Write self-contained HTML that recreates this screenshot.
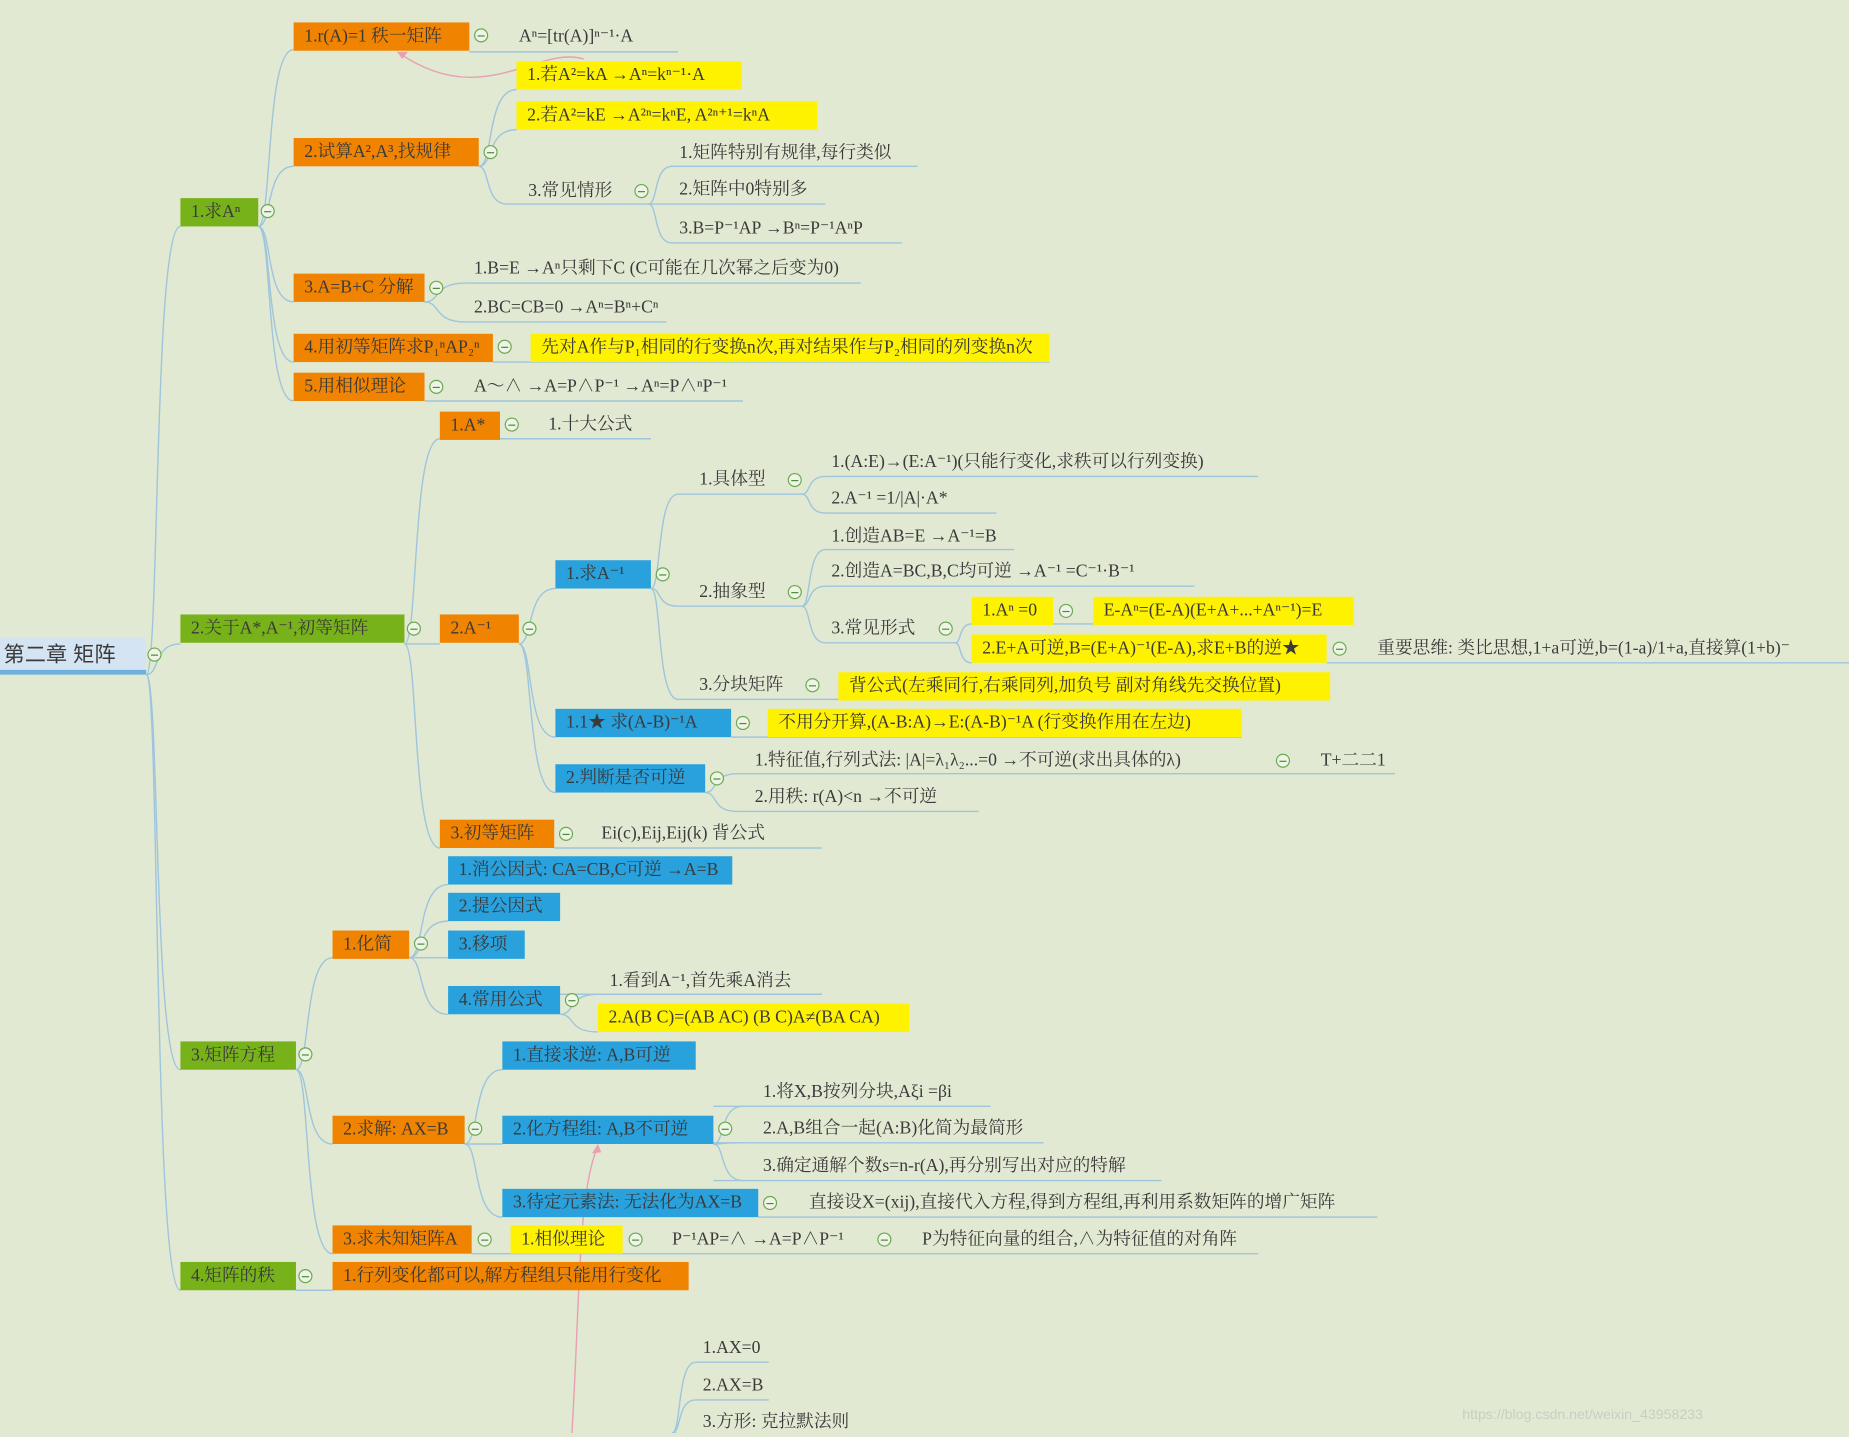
<!DOCTYPE html>
<html><head><meta charset="utf-8">
<style>
html,body{margin:0;padding:0;width:1849px;height:1433px;overflow:hidden;background:#e2e9d3;}
#s{position:absolute;left:0;top:0;width:1568px;height:1215px;transform:scale(1.1792,1.1794);transform-origin:0 0;font-family:"Liberation Serif","Noto Serif CJK SC",serif;font-size:15px;color:#3a3a3a;}
.b,.t{position:absolute;white-space:nowrap;box-sizing:border-box;}
.b{height:24px;line-height:25px;padding:0 9px;}
.t{height:22px;line-height:23px;}
.g{background:#78b21a;}
.o{background:#f08300;}
.u{background:#28a1dd;}
.y{background:#fff200;}
.c{position:absolute;width:10px;height:10px;border:1px solid #6aa84f;border-radius:50%;background:#eef4e6;}
.c:after{content:"";position:absolute;left:2px;right:2px;top:4.5px;height:1px;background:#4a8a3a;}
svg{position:absolute;left:0;top:0;}
</style></head><body><div id="s">
<svg width="1568" height="1215" id="sv">
<g id="eg" fill="none" stroke="#9fc5dd" stroke-width="1.2"></g>
<path d="M495,50 C455,38 410,95 337,44" fill="none" stroke="#e8a0b0" stroke-width="1.2"/>
<path d="M337,44 l9,0 l-5,6 z" fill="#e8a0b0"/>
<path d="M507,972 C490,1010 492,1100 485,1215" fill="none" stroke="#e8a0b0" stroke-width="1.2"/>
<path d="M507,970 l-5,8 l8,-1 z" fill="#e8a0b0"/>
</svg>

<div class="b" style="left:0;top:540px;width:124px;height:32px;line-height:30px;background:#d5e4f2;border-bottom:4px solid #6fb1de;font-family:'Liberation Sans','Noto Sans CJK SC',sans-serif;font-size:18px;padding:0 3px;">第二章  矩阵</div>
<div class="c" style="left:125px;top:549px"></div>

<div class="b g" style="left:153px;top:168px;width:66px">1.求Aⁿ</div><div class="c" style="left:221px;top:173px"></div>
<div class="b g" style="left:153px;top:521px;width:190px">2.关于A*,A⁻¹,初等矩阵</div><div class="c" style="left:345px;top:527px"></div>
<div class="b g" style="left:153px;top:883px;width:98px">3.矩阵方程</div><div class="c" style="left:253px;top:888px"></div>
<div class="b g" style="left:153px;top:1070px;width:98px">4.矩阵的秩</div><div class="c" style="left:253px;top:1076px"></div>

<div class="b o" style="left:249px;top:19px;width:149px">1.r(A)=1 秩一矩阵</div><div class="c" style="left:402px;top:24px"></div>
<div class="t" style="left:440px;top:20px">Aⁿ=[tr(A)]ⁿ⁻¹·A</div>
<div class="b o" style="left:249px;top:117px;width:157px">2.试算A²,A³,找规律</div><div class="c" style="left:410px;top:123px"></div>
<div class="b y" style="left:438px;top:52px;width:191px">1.若A²=kA →Aⁿ=kⁿ⁻¹·A</div>
<div class="b y" style="left:438px;top:86px;width:255px">2.若A²=kE →A²ⁿ=kⁿE, A²ⁿ⁺¹=kⁿA</div>
<div class="t" style="left:448px;top:151px">3.常见情形</div><div class="c" style="left:538px;top:156px"></div>
<div class="t" style="left:576px;top:119px">1.矩阵特别有规律,每行类似</div>
<div class="t" style="left:576px;top:150px">2.矩阵中0特别多</div>
<div class="t" style="left:576px;top:183px">3.B=P⁻¹AP →Bⁿ=P⁻¹AⁿP</div>
<div class="b o" style="left:249px;top:232px;width:111px">3.A=B+C 分解</div><div class="c" style="left:364px;top:238px"></div>
<div class="t" style="left:402px;top:217px">1.B=E →Aⁿ只剩下C (C可能在几次幂之后变为0)</div>
<div class="t" style="left:402px;top:250px">2.BC=CB=0 →Aⁿ=Bⁿ+Cⁿ</div>
<div class="b o" style="left:249px;top:283px;width:169px">4.用初等矩阵求P₁ⁿAP₂ⁿ</div><div class="c" style="left:422px;top:288px"></div>
<div class="b y" style="left:450px;top:283px;width:440px">先对A作与P₁相同的行变换n次,再对结果作与P₂相同的列变换n次</div>
<div class="b o" style="left:249px;top:316px;width:111px">5.用相似理论</div><div class="c" style="left:364px;top:322px"></div>
<div class="t" style="left:402px;top:317px">A～∧ →A=P∧P⁻¹ →Aⁿ=P∧ⁿP⁻¹</div>

<div class="b o" style="left:373px;top:349px;width:51px">1.A*</div><div class="c" style="left:428px;top:354px"></div>
<div class="t" style="left:465px;top:349px">1.十大公式</div>
<div class="b o" style="left:373px;top:521px;width:67px">2.A⁻¹</div><div class="c" style="left:443px;top:527px"></div>
<div class="b u" style="left:471px;top:475px;width:81px">1.求A⁻¹</div><div class="c" style="left:556px;top:481px"></div>
<div class="t" style="left:593px;top:396px">1.具体型</div><div class="c" style="left:668px;top:401px"></div>
<div class="t" style="left:705px;top:381px">1.(A:E)→(E:A⁻¹)(只能行变化,求秩可以行列变换)</div>
<div class="t" style="left:705px;top:412px">2.A⁻¹ =1/|A|·A*</div>
<div class="t" style="left:593px;top:491px">2.抽象型</div><div class="c" style="left:668px;top:496px"></div>
<div class="t" style="left:705px;top:444px">1.创造AB=E →A⁻¹=B</div>
<div class="t" style="left:705px;top:474px">2.创造A=BC,B,C均可逆 →A⁻¹ =C⁻¹·B⁻¹</div>
<div class="t" style="left:705px;top:522px">3.常见形式</div><div class="c" style="left:796px;top:527px"></div>
<div class="b y" style="left:824px;top:506px;width:69px">1.Aⁿ =0</div><div class="c" style="left:898px;top:512px"></div>
<div class="b y" style="left:927px;top:506px;width:221px">E-Aⁿ=(E-A)(E+A+...+Aⁿ⁻¹)=E</div>
<div class="b y" style="left:824px;top:538px;width:301px">2.E+A可逆,B=(E+A)⁻¹(E-A),求E+B的逆★</div><div class="c" style="left:1130px;top:544px"></div>
<div class="t" style="left:1168px;top:539px">重要思维: 类比思想,1+a可逆,b=(1-a)/1+a,直接算(1+b)⁻</div>
<div class="t" style="left:593px;top:570px">3.分块矩阵</div><div class="c" style="left:683px;top:575px"></div>
<div class="b y" style="left:711px;top:570px;width:417px">背公式(左乘同行,右乘同列,加负号  副对角线先交换位置)</div>
<div class="b u" style="left:471px;top:601px;width:149px">1.1★ 求(A-B)⁻¹A</div><div class="c" style="left:624px;top:607px"></div>
<div class="b y" style="left:651px;top:601px;width:402px">不用分开算,(A-B:A)→E:(A-B)⁻¹A (行变换作用在左边)</div>
<div class="b u" style="left:471px;top:648px;width:127px">2.判断是否可逆</div><div class="c" style="left:602px;top:654px"></div>
<div class="t" style="left:640px;top:634px">1.特征值,行列式法: |A|=λ₁λ₂...=0 →不可逆(求出具体的λ)</div><div class="c" style="left:1082px;top:639px"></div>
<div class="t" style="left:1120px;top:634px">T+二二1</div>
<div class="t" style="left:640px;top:665px">2.用秩: r(A)&lt;n →不可逆</div>
<div class="b o" style="left:373px;top:695px;width:97px">3.初等矩阵</div><div class="c" style="left:474px;top:701px"></div>
<div class="t" style="left:510px;top:696px">Ei(c),Eij,Eij(k) 背公式</div>

<div class="b o" style="left:282px;top:789px;width:65px">1.化简</div><div class="c" style="left:351px;top:794px"></div>
<div class="b u" style="left:380px;top:726px;width:241px">1.消公因式: CA=CB,C可逆 →A=B</div>
<div class="b u" style="left:380px;top:757px;width:95px">2.提公因式</div>
<div class="b u" style="left:380px;top:789px;width:65px">3.移项</div>
<div class="b u" style="left:380px;top:836px;width:95px">4.常用公式</div><div class="c" style="left:479px;top:842px"></div>
<div class="t" style="left:517px;top:821px">1.看到A⁻¹,首先乘A消去</div>
<div class="b y" style="left:507px;top:851px;width:264px">2.A(B C)=(AB AC) (B C)A≠(BA CA)</div>
<div class="b o" style="left:282px;top:946px;width:112px">2.求解: AX=B</div><div class="c" style="left:397px;top:951px"></div>
<div class="b u" style="left:426px;top:883px;width:164px">1.直接求逆: A,B可逆</div>
<div class="b u" style="left:426px;top:946px;width:179px">2.化方程组: A,B不可逆</div><div class="c" style="left:609px;top:951px"></div>
<div class="t" style="left:647px;top:915px">1.将X,B按列分块,Aξi =βi</div>
<div class="t" style="left:647px;top:946px">2.A,B组合一起(A:B)化简为最简形</div>
<div class="t" style="left:647px;top:978px">3.确定通解个数s=n-r(A),再分别写出对应的特解</div>
<div class="b u" style="left:426px;top:1008px;width:217px">3.待定元素法: 无法化为AX=B</div><div class="c" style="left:647px;top:1014px"></div>
<div class="t" style="left:686px;top:1009px">直接设X=(xij),直接代入方程,得到方程组,再利用系数矩阵的增广矩阵</div>
<div class="b o" style="left:282px;top:1039px;width:118px">3.求未知矩阵A</div><div class="c" style="left:405px;top:1045px"></div>
<div class="b y" style="left:433px;top:1039px;width:95px">1.相似理论</div><div class="c" style="left:533px;top:1045px"></div>
<div class="t" style="left:570px;top:1040px">P⁻¹AP=∧ →A=P∧P⁻¹</div><div class="c" style="left:744px;top:1045px"></div>
<div class="t" style="left:782px;top:1040px">P为特征向量的组合,∧为特征值的对角阵</div>
<div class="b o" style="left:282px;top:1070px;width:302px">1.行列变化都可以,解方程组只能用行变化</div>

<div class="t" style="left:596px;top:1132px">1.AX=0</div>
<div class="t" style="left:596px;top:1164px">2.AX=B</div>
<div class="t" style="left:596px;top:1195px">3.方形: 克拉默法则</div>
<div class="t" style="left:1240px;top:1188px;color:#c8cec0;font-family:'Liberation Sans',sans-serif;font-size:12px">https://blog.csdn.net/weixin_43958233</div>
</div>
<script>
var E=[[124,572,153,192],[124,572,153,546],[124,572,153,907],[124,572,153,1094],
[219,192,249,42],[219,192,249,141],[219,192,249,256],[219,192,249,307],[219,192,249,340],
[406,141,438,76],[406,141,438,110],[406,141,430,173],
[550,173,570,141],[550,173,570,173],[550,173,570,206],
[360,256,395,240],[360,256,395,273],
[343,546,373,372],[343,546,373,546],[343,546,373,719],
[440,546,471,499],[440,546,471,625],[440,546,471,672],
[552,499,575,419],[552,499,575,514],[552,499,575,593],
[680,419,700,404],[680,419,700,435],
[680,514,700,466],[680,514,700,497],[680,514,700,545],
[810,545,824,529],[810,545,824,562],
[598,672,625,656],[598,672,625,688],
[251,907,282,812],[251,907,282,970],[251,907,282,1063],
[347,812,380,750],[347,812,380,781],[347,812,380,812],[347,812,380,860],
[475,860,507,843],[475,860,507,875],
[394,970,426,907],[394,970,426,970],[394,970,426,1032],
[605,970,630,938],[605,970,630,969],[605,970,630,1001],
[251,1094,282,1094],
[570,1215,590,1155],[570,1215,590,1187],[570,1215,590,1218]];
var L=[[398,575,44],[629,629,76],[693,693,110],[430,550,173],[570,778,141],[570,700,173],[570,765,206],
[395,730,240],[395,565,273],[418,890,307],[360,630,340],[424,552,372],[575,680,419],[700,1067,404],[700,845,435],
[575,680,514],[700,860,466],[700,1013,497],[700,810,545],[893,1148,529],[1125,1568,562],[575,1128,593],
[620,1053,625],[625,1183,656],[625,830,688],[470,697,719],[475,697,843],[605,840,938],[605,885,969],[605,985,1001],
[643,1168,1032],[400,1067,1063],[590,652,1155],[590,652,1187],[590,740,1218]];
var g=document.getElementById('eg'),h='';
E.forEach(function(e){var a=e[0],b=e[1],c=e[2],d=e[3];h+='<path d="M'+a+','+b+' C'+(a+(c-a)*0.4)+','+b+' '+(a+(c-a)*0.2)+','+d+' '+c+','+d+'"/>';});
L.forEach(function(l){h+='<path d="M'+l[0]+','+l[2]+' L'+l[1]+','+l[2]+'"/>';});
g.innerHTML=h;
</script>
</body></html>
